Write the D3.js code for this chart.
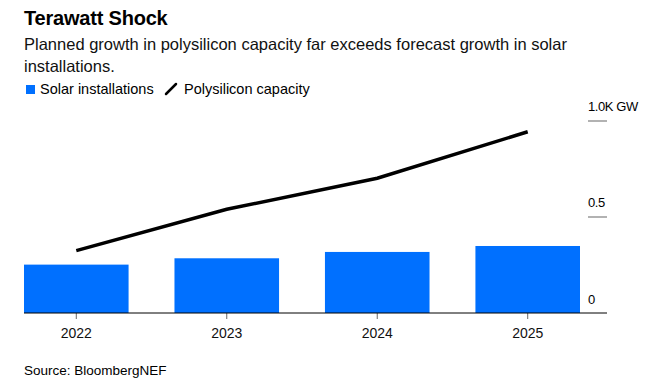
<!DOCTYPE html>
<html>
<head>
<meta charset="utf-8">
<script src="https://cdn.jsdelivr.net/npm/d3@7"></script>
<style>
  body { margin: 0; background: #fff; }
  svg { font-family: "Liberation Sans", Arial, sans-serif; }
</style>
</head>
<body>
<div id="chart"></div>
<script>
// chart data
var years = ["2022", "2023", "2024", "2025"];
var solarInstallations = [252, 285, 318, 349];   // GW
var polysiliconCapacity = [325, 540, 702, 944];  // GW
var yTicks = [0, 500, 1000];
var yTickLabels = ["0", "0.5", "1.0K GW"];

var width = 662, height = 386;

var svg = d3.select("#chart").append("svg")
    .attr("width", width)
    .attr("height", height);

// title block
svg.append("text")
    .attr("x", 24).attr("y", 25)
    .style("font-size", "20px").style("font-weight", "bold")
    .style("letter-spacing", "-0.2px")
    .text("Terawatt Shock");

var sub = ["Planned growth in polysilicon capacity far exceeds forecast growth in solar", "installations."];
svg.selectAll(".sub").data(sub).enter().append("text")
    .attr("class", "sub")
    .attr("x", 24)
    .attr("y", function (d, i) { return 50 + i * 22; })
    .style("font-size", "16.5px")
    .style("fill", "#111")
    .text(function (d) { return d; });

// legend
var legend = svg.append("g");
legend.append("rect")
    .attr("x", 26).attr("y", 85).attr("width", 9).attr("height", 9)
    .attr("fill", "#0070ff");
legend.append("text")
    .attr("x", 40).attr("y", 94)
    .style("font-size", "14.5px")
    .text("Solar installations");
legend.append("line")
    .attr("x1", 166).attr("y1", 94).attr("x2", 176).attr("y2", 84)
    .attr("stroke", "#000").attr("stroke-width", 2.5).attr("stroke-linecap", "round");
legend.append("text")
    .attr("x", 184).attr("y", 94)
    .style("font-size", "14.5px")
    .text("Polysilicon capacity");

// scales
var x = d3.scaleBand()
    .domain(years)
    .range([24, 580])
    .paddingInner(0.305)
    .paddingOuter(0);

var y = d3.scaleLinear()
    .domain([0, 1000])
    .range([313, 121]);

// bars
svg.selectAll(".bar")
    .data(years)
    .enter().append("rect")
    .attr("class", "bar")
    .attr("x", function (d) { return x(d); })
    .attr("y", function (d, i) { return y(solarInstallations[i]); })
    .attr("width", x.bandwidth())
    .attr("height", function (d, i) { return y(0) - y(solarInstallations[i]); })
    .attr("fill", "#0070ff");

// line
var line = d3.line()
    .x(function (d, i) { return x(years[i]) + x.bandwidth() / 2; })
    .y(function (d) { return y(d); });

svg.append("path")
    .datum(polysiliconCapacity)
    .attr("d", line)
    .attr("fill", "none")
    .attr("stroke", "#000")
    .attr("stroke-width", 3.5);

// right axis: gray tick marks with labels above
var yAxis = svg.append("g");
yTicks.forEach(function (t, i) {
    if (t > 0) {
        yAxis.append("line")
            .attr("x1", 588).attr("x2", 607)
            .attr("y1", y(t)).attr("y2", y(t))
            .attr("stroke", "#999").attr("stroke-width", 1.5);
    }
    yAxis.append("text")
        .attr("x", 588)
        .attr("y", y(t) - (t > 0 ? 10 : 9))
        .style("font-size", "13px").style("letter-spacing", "-0.4px")
        .text(yTickLabels[i]);
});

// x axis
var xAxis = d3.axisBottom(x).tickSize(6).tickSizeOuter(0);
var gx = svg.append("g")
    .attr("transform", "translate(0,313)")
    .call(xAxis);
gx.select(".domain").remove();
gx.selectAll(".tick line").attr("stroke", "#666");
gx.selectAll(".tick text")
    .attr("dy", 0).attr("y", 25)
    .style("font-size", "14px").style("font-family", "Liberation Sans, Arial, sans-serif")
    .style("fill", "#111");
svg.append("line")
    .attr("x1", 24).attr("x2", 607)
    .attr("y1", 313).attr("y2", 313)
    .attr("stroke", "#000").attr("stroke-width", 1);

// source
svg.append("text")
    .attr("x", 24).attr("y", 375)
    .style("font-size", "13.5px")
    .text("Source: BloombergNEF");
</script>
</body>
</html>
